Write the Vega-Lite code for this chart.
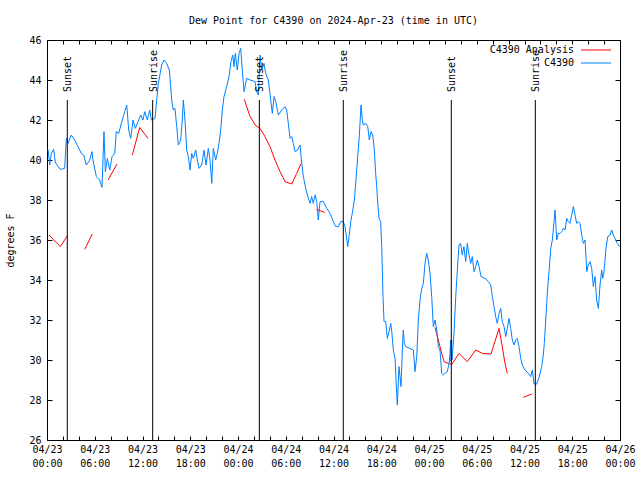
{
  "$schema": "https://vega.github.io/schema/vega-lite/v6.json",
  "width": 573,
  "height": 400,
  "autosize": "none",
  "padding": {"left": 47, "top": 40, "right": 20, "bottom": 40},
  "title": {"text": "Dew Point for C4390 on 2024-Apr-23 (time in UTC)", "anchor": "middle", "offset": 9},
  "datasets": {
    "obs": [
      {"h":0.13,"v":40.53},{"h":0.34,"v":39.75},{"h":0.54,"v":40.33},{"h":0.84,"v":40.53},{"h":1.04,"v":39.9},{"h":1.26,"v":39.75},{"h":1.67,"v":39.53},{"h":2.22,"v":39.58},{"h":2.43,"v":41.08},{"h":2.64,"v":40.83},{"h":3.05,"v":41.25},{"h":3.48,"v":41.0},{"h":3.9,"v":40.67},{"h":4.31,"v":40.33},{"h":4.61,"v":40.25},{"h":4.94,"v":39.75},{"h":5.37,"v":40.0},{"h":5.65,"v":40.42},{"h":5.78,"v":40.0},{"h":6.2,"v":39.17},{"h":6.62,"v":39.0},{"h":6.91,"v":38.63},{"h":7.16,"v":41.42},{"h":7.33,"v":39.42},{"h":7.58,"v":40.08},{"h":7.88,"v":39.5},{"h":8.17,"v":40.17},{"h":8.51,"v":40.33},{"h":8.71,"v":41.42},{"h":9.01,"v":41.33},{"h":9.34,"v":41.83},{"h":9.76,"v":42.42},{"h":10.02,"v":42.75},{"h":10.27,"v":41.5},{"h":10.52,"v":41.08},{"h":10.81,"v":42.0},{"h":11.1,"v":41.58},{"h":11.44,"v":41.92},{"h":11.78,"v":42.25},{"h":12.06,"v":42.0},{"h":12.28,"v":42.42},{"h":12.6,"v":42.0},{"h":12.91,"v":42.5},{"h":13.11,"v":42.0},{"h":13.57,"v":42.08},{"h":13.99,"v":43.83},{"h":14.41,"v":44.75},{"h":14.7,"v":45.0},{"h":15.04,"v":44.83},{"h":15.37,"v":44.5},{"h":15.67,"v":43.0},{"h":15.87,"v":42.5},{"h":16.08,"v":42.58},{"h":16.3,"v":41.67},{"h":16.5,"v":40.75},{"h":16.8,"v":41.0},{"h":17.0,"v":42.0},{"h":17.13,"v":43.0},{"h":17.34,"v":42.0},{"h":17.55,"v":40.5},{"h":17.76,"v":40.17},{"h":17.97,"v":39.5},{"h":18.18,"v":40.33},{"h":18.38,"v":40.08},{"h":18.69,"v":40.5},{"h":18.89,"v":40.0},{"h":19.1,"v":39.58},{"h":19.44,"v":39.75},{"h":19.73,"v":40.5},{"h":19.98,"v":39.75},{"h":20.27,"v":40.58},{"h":20.48,"v":40.0},{"h":20.7,"v":38.83},{"h":20.9,"v":40.58},{"h":21.2,"v":40.0},{"h":21.4,"v":40.33},{"h":21.61,"v":40.83},{"h":21.83,"v":41.5},{"h":22.03,"v":42.5},{"h":22.24,"v":43.17},{"h":22.58,"v":43.67},{"h":22.87,"v":44.17},{"h":23.12,"v":44.92},{"h":23.34,"v":45.25},{"h":23.5,"v":44.67},{"h":23.66,"v":45.33},{"h":23.91,"v":44.5},{"h":24.13,"v":45.33},{"h":24.34,"v":45.58},{"h":24.54,"v":44.5},{"h":24.76,"v":43.42},{"h":25.09,"v":44.08},{"h":25.51,"v":44.0},{"h":26.14,"v":43.92},{"h":26.35,"v":43.42},{"h":26.55,"v":43.25},{"h":26.77,"v":45.25},{"h":26.98,"v":44.5},{"h":27.27,"v":44.83},{"h":27.48,"v":44.33},{"h":27.81,"v":44.0},{"h":28.11,"v":43.0},{"h":28.31,"v":42.33},{"h":28.53,"v":43.17},{"h":28.74,"v":42.92},{"h":29.07,"v":42.25},{"h":29.49,"v":42.5},{"h":29.91,"v":42.67},{"h":30.12,"v":42.5},{"h":30.32,"v":41.83},{"h":30.54,"v":41.08},{"h":30.75,"v":41.17},{"h":30.95,"v":40.83},{"h":31.16,"v":40.42},{"h":31.5,"v":40.5},{"h":31.79,"v":40.75},{"h":32.01,"v":39.83},{"h":32.21,"v":39.17},{"h":32.51,"v":38.58},{"h":32.84,"v":38.08},{"h":33.05,"v":37.83},{"h":33.26,"v":38.17},{"h":33.46,"v":37.83},{"h":33.68,"v":38.25},{"h":33.89,"v":37.92},{"h":34.09,"v":37.0},{"h":34.31,"v":37.92},{"h":34.72,"v":37.92},{"h":35.15,"v":37.58},{"h":35.56,"v":37.33},{"h":35.98,"v":36.92},{"h":36.28,"v":36.67},{"h":36.61,"v":36.67},{"h":36.91,"v":36.92},{"h":37.23,"v":36.92},{"h":37.45,"v":36.67},{"h":37.79,"v":35.67},{"h":37.95,"v":36.17},{"h":38.2,"v":37.0},{"h":38.36,"v":37.33},{"h":38.62,"v":38.0},{"h":38.79,"v":38.83},{"h":39.04,"v":40.17},{"h":39.21,"v":41.0},{"h":39.33,"v":41.83},{"h":39.46,"v":42.75},{"h":39.62,"v":42.0},{"h":39.75,"v":41.75},{"h":40.05,"v":41.83},{"h":40.3,"v":41.67},{"h":40.5,"v":41.0},{"h":40.71,"v":41.42},{"h":40.93,"v":41.25},{"h":41.13,"v":40.5},{"h":41.3,"v":39.33},{"h":41.43,"v":38.67},{"h":41.56,"v":37.83},{"h":41.72,"v":37.08},{"h":41.93,"v":36.92},{"h":42.06,"v":35.67},{"h":42.22,"v":33.17},{"h":42.35,"v":31.92},{"h":42.56,"v":31.92},{"h":42.76,"v":31.08},{"h":42.98,"v":31.42},{"h":43.19,"v":31.83},{"h":43.32,"v":31.42},{"h":43.52,"v":30.5},{"h":43.73,"v":30.08},{"h":43.94,"v":28.33},{"h":44.02,"v":27.75},{"h":44.23,"v":29.67},{"h":44.36,"v":29.17},{"h":44.48,"v":28.67},{"h":44.65,"v":30.5},{"h":44.77,"v":31.5},{"h":44.9,"v":30.83},{"h":45.07,"v":30.67},{"h":45.61,"v":30.58},{"h":46.03,"v":30.5},{"h":46.24,"v":29.42},{"h":46.46,"v":30.17},{"h":46.66,"v":32.0},{"h":46.87,"v":33.0},{"h":47.09,"v":33.58},{"h":47.29,"v":33.83},{"h":47.5,"v":34.83},{"h":47.71,"v":35.33},{"h":47.91,"v":35.0},{"h":48.13,"v":34.33},{"h":48.34,"v":33.17},{"h":48.54,"v":31.67},{"h":48.76,"v":32.0},{"h":48.97,"v":31.5},{"h":49.17,"v":30.67},{"h":49.38,"v":30.5},{"h":49.6,"v":29.33},{"h":49.8,"v":29.25},{"h":50.01,"v":29.33},{"h":50.3,"v":29.42},{"h":50.52,"v":29.83},{"h":50.64,"v":30.33},{"h":50.72,"v":31.0},{"h":50.78,"v":29.9},{"h":50.84,"v":31.0},{"h":50.9,"v":30.0},{"h":50.96,"v":30.33},{"h":51.14,"v":31.33},{"h":51.36,"v":33.17},{"h":51.56,"v":34.5},{"h":51.77,"v":35.75},{"h":51.98,"v":35.83},{"h":52.18,"v":35.25},{"h":52.39,"v":35.67},{"h":52.61,"v":34.92},{"h":52.81,"v":35.83},{"h":53.03,"v":35.25},{"h":53.24,"v":34.83},{"h":53.44,"v":35.17},{"h":53.66,"v":34.42},{"h":53.87,"v":34.67},{"h":54.07,"v":35.0},{"h":54.29,"v":34.67},{"h":54.54,"v":34.17},{"h":55.04,"v":34.08},{"h":55.45,"v":33.92},{"h":55.76,"v":33.75},{"h":55.96,"v":33.17},{"h":56.17,"v":32.67},{"h":56.38,"v":32.17},{"h":56.58,"v":31.83},{"h":56.8,"v":32.33},{"h":57.01,"v":32.58},{"h":57.21,"v":31.92},{"h":57.43,"v":31.67},{"h":57.64,"v":31.17},{"h":57.84,"v":31.58},{"h":58.06,"v":32.08},{"h":58.27,"v":31.58},{"h":58.47,"v":31.0},{"h":58.68,"v":30.75},{"h":58.9,"v":31.0},{"h":59.1,"v":31.08},{"h":59.31,"v":30.67},{"h":59.53,"v":30.08},{"h":59.73,"v":29.75},{"h":60.07,"v":29.5},{"h":60.48,"v":29.33},{"h":60.78,"v":29.17},{"h":60.98,"v":29.5},{"h":61.2,"v":28.8},{"h":61.54,"v":28.8},{"h":61.86,"v":29.17},{"h":62.16,"v":29.67},{"h":62.36,"v":30.25},{"h":62.49,"v":30.83},{"h":62.67,"v":32.0},{"h":62.79,"v":32.83},{"h":62.92,"v":33.67},{"h":63.12,"v":34.58},{"h":63.3,"v":35.58},{"h":63.5,"v":36.0},{"h":63.71,"v":36.92},{"h":63.84,"v":37.5},{"h":64.05,"v":36.0},{"h":64.25,"v":36.33},{"h":64.46,"v":36.33},{"h":64.68,"v":36.42},{"h":64.88,"v":36.58},{"h":65.09,"v":36.5},{"h":65.31,"v":37.08},{"h":65.51,"v":36.92},{"h":65.72,"v":36.83},{"h":65.93,"v":37.25},{"h":66.14,"v":37.67},{"h":66.35,"v":37.25},{"h":66.56,"v":36.83},{"h":66.76,"v":36.92},{"h":66.98,"v":36.83},{"h":67.19,"v":36.25},{"h":67.39,"v":35.83},{"h":67.61,"v":36.0},{"h":67.82,"v":34.42},{"h":68.02,"v":34.75},{"h":68.23,"v":34.92},{"h":68.45,"v":34.58},{"h":68.65,"v":33.67},{"h":68.86,"v":34.17},{"h":69.07,"v":33.0},{"h":69.28,"v":32.58},{"h":69.49,"v":33.75},{"h":69.7,"v":34.5},{"h":69.83,"v":34.08},{"h":69.99,"v":34.42},{"h":70.24,"v":35.58},{"h":70.46,"v":36.17},{"h":70.75,"v":36.25},{"h":70.96,"v":36.5},{"h":71.16,"v":36.25},{"h":71.38,"v":36.08},{"h":71.67,"v":35.83},{"h":71.92,"v":35.67}
    ],
    "ana": [
      {"g":1,"h":0.25,"v":36.25},{"g":1,"h":1.67,"v":35.67},{"g":1,"h":2.55,"v":36.2},
      {"g":2,"h":4.74,"v":35.53},{"g":2,"h":5.69,"v":36.3},
      {"g":3,"h":7.67,"v":39.0},{"g":3,"h":8.8,"v":39.8},
      {"g":4,"h":10.72,"v":40.25},{"g":4,"h":11.65,"v":41.63},{"g":4,"h":12.69,"v":41.08},
      {"g":5,"h":24.79,"v":43.03},{"g":5,"h":25.51,"v":42.17},{"g":5,"h":25.92,"v":41.92},{"g":5,"h":26.14,"v":41.75},{"g":5,"h":26.77,"v":41.58},{"g":5,"h":27.39,"v":41.17},{"g":5,"h":28.02,"v":40.67},{"g":5,"h":28.65,"v":40.0},{"g":5,"h":29.28,"v":39.42},{"g":5,"h":29.91,"v":38.92},{"g":5,"h":30.75,"v":38.8},{"g":5,"h":31.38,"v":39.33},{"g":5,"h":31.88,"v":39.8},
      {"g":6,"h":33.85,"v":37.53},{"g":6,"h":34.9,"v":37.38},
      {"g":8,"h":48.76,"v":31.63},{"g":8,"h":49.17,"v":31.0},{"g":8,"h":49.6,"v":30.33},{"g":8,"h":49.89,"v":29.92},{"g":8,"h":50.43,"v":29.83},{"g":8,"h":50.86,"v":29.78},{"g":8,"h":51.77,"v":30.33},{"g":8,"h":52.81,"v":29.92},{"g":8,"h":53.87,"v":30.5},{"g":8,"h":54.7,"v":30.33},{"g":8,"h":55.79,"v":30.3},{"g":8,"h":56.8,"v":31.58},{"g":8,"h":57.14,"v":30.83},{"g":8,"h":57.55,"v":29.83},{"g":8,"h":57.84,"v":29.33},
      {"g":9,"h":59.85,"v":28.13},{"g":9,"h":60.91,"v":28.3}
    ],
    "sun": [
      {"h":2.55,"label":"Sunset"},{"h":13.28,"label":"Sunrise"},{"h":26.68,"label":"Sunset"},{"h":37.23,"label":"Sunrise"},{"h":50.8,"label":"Sunset"},{"h":61.36,"label":"Sunrise"}
    ]
  },
  "layer": [
    {
      "data": {"name": "ana"},
      "transform": [{"calculate": "'C4390 Analysis'", "as": "series"}],
      "mark": {"type": "line", "strokeWidth": 1},
      "encoding": {
        "x": {"field": "h", "type": "quantitative", "scale": {"domain": [0, 72], "nice": false, "zero": false},
          "axis": {"orient": "bottom", "title": null, "values": [0,2,4,6,8,10,12,14,16,18,20,22,24,26,28,30,32,34,36,38,40,42,44,46,48,50,52,54,56,58,60,62,64,66,68,70,72],
            "labelExpr": "datum.value % 6 == 0 ? ['04/' + (23 + floor(datum.value/24)), (datum.value % 24 < 10 ? '0' : '') + (datum.value % 24) + ':00'] : ''",
            "labelFlush": false, "labelOverlap": false, "labelLineHeight": 14, "labelPadding": 8, "tickSize": -4}},
        "y": {"field": "v", "type": "quantitative", "scale": {"domain": [26, 46], "nice": false, "zero": false},
          "axis": {"orient": "left", "title": "degrees F", "titlePadding": 13, "values": [26,28,30,32,34,36,38,40,42,44,46], "tickSize": -5, "labelPadding": 11}},
        "color": {"field": "series", "type": "nominal",
          "scale": {"domain": ["C4390 Analysis", "C4390"], "range": ["#ff0000", "#0080ff"]},
          "legend": {"title": null, "orient": "none", "legendX": 543.5, "legendY": 4.5, "symbolType": "M-3,0H3", "symbolSize": 100, "symbolStrokeWidth": 1, "labelAlign": "right", "labelOffset": -27.5, "labelFontSize": 10, "rowPadding": 2, "padding": 0}},
        "detail": {"field": "g"}
      }
    },
    {
      "data": {"name": "obs"},
      "transform": [{"calculate": "'C4390'", "as": "series"}],
      "mark": {"type": "line", "strokeWidth": 1},
      "encoding": {
        "x": {"field": "h", "type": "quantitative", "axis": null},
        "y": {"field": "v", "type": "quantitative", "axis": null},
        "color": {"field": "series", "type": "nominal"}
      }
    },
    {
      "data": {"name": "sun"},
      "mark": {"type": "rule", "color": "black", "strokeWidth": 1},
      "encoding": {
        "x": {"field": "h", "type": "quantitative",
          "axis": {"orient": "top", "title": null, "labels": false, "values": [0,2,4,6,8,10,12,14,16,18,20,22,24,26,28,30,32,34,36,38,40,42,44,46,48,50,52,54,56,58,60,62,64,66,68,70,72], "tickSize": -4}},
        "y": {"datum": 43, "type": "quantitative",
          "axis": {"orient": "right", "title": null, "labels": false, "values": [26,28,30,32,34,36,38,40,42,44,46], "tickSize": -5}},
        "y2": {"datum": 26}
      }
    },
    {
      "data": {"name": "sun"},
      "mark": {"type": "text", "angle": 270, "align": "left", "baseline": "middle", "fontSize": 10, "color": "black", "dy": 1},
      "encoding": {
        "x": {"field": "h", "type": "quantitative", "axis": null},
        "y": {"datum": 43.4, "type": "quantitative", "axis": null},
        "text": {"field": "label"}
      }
    }
  ],
  "resolve": {"axis": {"x": "independent", "y": "independent"}},
  "config": {
    "font": "DejaVu Sans Mono",
    "view": {"stroke": "black", "strokeWidth": 1},
    "title": {"font": "DejaVu Sans Mono", "fontSize": 10, "fontWeight": "normal", "color": "black"},
    "axis": {"domain": false, "grid": false, "labelFont": "DejaVu Sans Mono", "labelFontSize": 10, "labelColor": "black", "tickColor": "black", "titleFont": "DejaVu Sans Mono", "titleFontSize": 10, "titleFontWeight": "normal", "titleColor": "black"},
    "legend": {"labelFont": "DejaVu Sans Mono", "labelColor": "black"}
  }
}
